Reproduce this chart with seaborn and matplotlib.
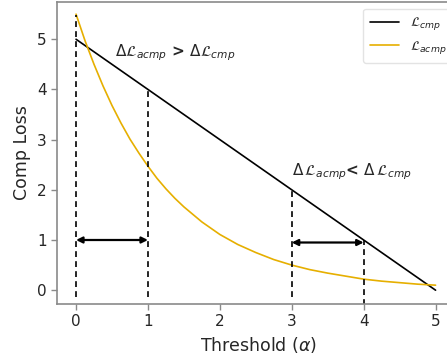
"""
Threshold vs. comp loss sketch: linear L_cmp against decaying L_acmp.
"""

import numpy as np
import pandas as pd
import matplotlib
matplotlib.use("Agg")
import matplotlib.pyplot as plt
import seaborn as sns

# --- data --------------------------------------------------------------
cmp_alpha = [0.0, 5.0]
cmp_loss = [5.0, 0.0]

acmp_alpha = [0.0, 0.125, 0.25, 0.375, 0.5, 0.625, 0.75, 0.875, 1.0,
              1.125, 1.25, 1.375, 1.5, 1.75, 2.0, 2.25, 2.5, 2.75, 3.0,
              3.25, 3.5, 3.75, 4.0, 4.25, 4.5, 4.75, 5.0]
acmp_loss = [5.50, 4.97, 4.50, 4.07, 3.68, 3.33, 3.01, 2.73, 2.47,
             2.23, 2.02, 1.83, 1.66, 1.36, 1.11, 0.91, 0.75, 0.61, 0.50,
             0.41, 0.34, 0.28, 0.22, 0.18, 0.15, 0.12, 0.10]

guide_x = [0, 1, 3, 4]
guide_top = [5.48, 4.05, 2.0, 1.0]
guide_bottom = [-0.13, -0.13, -0.13, -0.3]

span_start = [0, 3]
span_end = [1, 4]
span_y = [1.0, 0.95]

ticks = [0, 1, 2, 3, 4, 5]

LINE_CMP = "black"
LINE_ACMP = "#E6AF00"
SPINE = "#8a8a8a"

sns.set_style("white")
plt.rcParams["font.family"] = ["DejaVu Sans"]
plt.rcParams["mathtext.fontset"] = "dejavusans"

fig = plt.figure(figsize=(4.47, 3.54), dpi=100)
ax = fig.add_axes([0.1275, 0.142, 0.9, 0.852])

df_cmp = pd.DataFrame({"alpha": cmp_alpha, "loss": cmp_loss})
df_acmp = pd.DataFrame({"alpha": acmp_alpha, "loss": acmp_loss})
sns.lineplot(data=df_cmp, x="alpha", y="loss", color=LINE_CMP, lw=1.2,
             label=r"$\mathcal{L}_{cmp}$", ax=ax)
sns.lineplot(data=df_acmp, x="alpha", y="loss", color=LINE_ACMP, lw=1.2,
             label=r"$\mathcal{L}_{acmp}$", ax=ax)

ax.vlines(guide_x, guide_bottom, guide_top, colors="black",
          linestyles=(0, (3.5, 2.5)), lw=1.2)

for x0, x1, y in zip(span_start, span_end, span_y):
    ax.annotate("", xy=(x1, y), xytext=(x0, y),
                arrowprops=dict(arrowstyle="<|-|>", color="black", lw=1.6,
                                mutation_scale=9, shrinkA=0, shrinkB=0))

ax.text(0.54, 4.74, r"$\Delta\mathcal{L}_{acmp}$ > $\Delta\mathcal{L}_{cmp}$",
        fontsize=11, va="center", ha="left", fontweight="bold")
ax.text(3.0, 2.36, r"$\Delta\,\mathcal{L}_{acmp}$< $\Delta\,\mathcal{L}_{cmp}$",
        fontsize=11, va="center", ha="left", fontweight="bold")

ax.set_xlim(-0.265, 5.33)
ax.set_ylim(-0.27, 5.74)
ax.set_xticks(ticks)
ax.set_yticks(ticks)
ax.set_xlabel(r"Threshold ($\alpha$)", fontsize=12.5)
ax.set_ylabel("Comp Loss", fontsize=12.5)
ax.tick_params(axis="both", labelsize=11, length=4, width=1,
               color=SPINE, direction="out", bottom=True, left=True)
for side in ["left", "bottom", "top", "right"]:
    ax.spines[side].set_color(SPINE)
    ax.spines[side].set_linewidth(1.2)

ax.legend(loc="upper right", fontsize=9.5, frameon=True, fancybox=True,
          edgecolor="#dddddd", handlelength=2.2, borderpad=0.5)

fig.savefig("out.png", dpi=100)
